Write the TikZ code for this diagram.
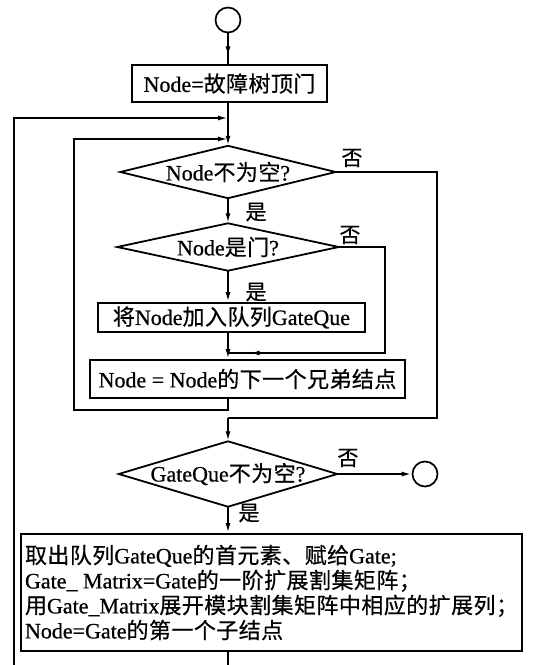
\documentclass[tikz,border=0pt]{standalone}
\usepackage{fontspec}
\setmainfont[RawFeature={embolden=0.7}]{Liberation Serif}
\newfontfamily\cjkfont[RawFeature={embolden=0.5},LetterSpace=2]{Noto Sans CJK SC}
\newcommand\zh[1]{{\cjkfont #1}}
\usetikzlibrary{arrows.meta,decorations.markings}
\tikzset{
  flow/.style={line width=1.8pt},
  arr/.style={-{Latex[length=10pt,width=5pt]}},
  marr/.style={postaction={decorate},decoration={markings,mark=at position #1 with {\arrow{Latex[length=10pt,width=5pt]}}}},
  box/.style={draw,line width=1.8pt,inner sep=2pt,font=\fontsize{22}{25}\selectfont},
  dia/.style={inner sep=0pt,font=\fontsize{22}{25}\selectfont},
  term/.style={circle,draw,line width=1.7pt,minimum size=25pt,inner sep=0pt},
  lbl/.style={inner sep=0pt,font=\fontsize{21}{21}\selectfont\cjkfont},
}
\begin{document}
\begin{tikzpicture}[x=1pt,y=-1pt]
\useasboundingbox (0,0) rectangle (533,665);
\fill[white] (0,0) rectangle (533,665);

\node[term] (start) at (228,20) {};
\node[box,minimum width=195pt,minimum height=37pt] (b1) at (229.5,83.5) {Node=\zh{故障树顶门}};
\coordinate (j1) at (228,118);
\coordinate (j2) at (228,139);
\node[dia,minimum width=215pt,minimum height=52pt] (d1) at (228,172) {Node\zh{不为空}?};
\node[dia,minimum width=221pt,minimum height=47pt] (d2) at (228,247) {Node\zh{是门}?};
\node[box,minimum width=267pt,minimum height=29pt] (b2) at (231.5,317.5) {\zh{将}Node\zh{加入队列}GateQue};
\node[box,minimum width=315pt,minimum height=38pt] (b3) at (247.5,379) {Node = Node\zh{的下一个兄弟结点}};
\node[dia,minimum width=218pt,minimum height=65pt] (d3) at (228,474) {GateQue\zh{不为空}?};
\node[term] (end) at (425,474) {};
\node[box,minimum width=497pt,minimum height=117pt,align=left,inner xsep=4pt] (b4) at (271.5,592.5)
  {\zh{取出队列}GateQue\zh{的首元素、赋给}Gate;\\
   Gate\_ Matrix=Gate\zh{的一阶扩展割集矩阵；}\\
   \zh{用}Gate\_Matrix\zh{展开模块割集矩阵中相应的扩展列；}\\
   Node=Gate\zh{的第一个子结点}};

% diamond outlines
\foreach \d in {d1,d2,d3}
  \draw[line width=1.8pt,line join=miter] (\d.north) -- (\d.east) -- (\d.south) -- (\d.west) -- cycle;

% connectors
\draw[flow,marr=0.75] (start.south) -- (start.south |- b1.north);
\draw[flow,arr] (j1 |- b1.south) -- (d1.north);
\draw[flow,arr] (d1.south) -- (d2.north);
\draw[flow,arr] (d2.south) -- (d2.south |- b2.north);
\draw[flow,arr] (d2.south |- b2.south) -- (d2.south |- b3.north);

\coordinate (il) at (74,410);
\draw[flow,arr] (j2 |- b3.south) -- (j2 |- il) -- (il) |- (j2);

\coordinate (ol) at (14,680);
\draw[flow,arr] (j1 |- b4.south) -- (j1 |- ol) -- (ol) |- (j1);

\coordinate (r1) at (437,418);
\draw[flow] (d1.east) -| (r1) -- (r1 -| j1);
\draw[flow,arr] (r1 -| j1) -- (d3.north);

\coordinate (r2) at (385,353);
\draw[flow,marr=0.93] (d2.east) -| (r2) -- (r2 -| j1);

\draw[flow,arr] (d3.east) -- (end.west);
\draw[flow,arr] (d3.south) -- (d3.south |- b4.north);

% labels
\node[lbl] (y1) at (256,212) {是};
\node[lbl] (n1) at (352,158) {否};
\node[lbl] (n2) at (350,235) {否};
\node[lbl] (y2) at (256,292) {是};
\node[lbl] (n3) at (348,458) {否};
\node[lbl] (y3) at (249,513) {是};
\end{tikzpicture}
\end{document}
